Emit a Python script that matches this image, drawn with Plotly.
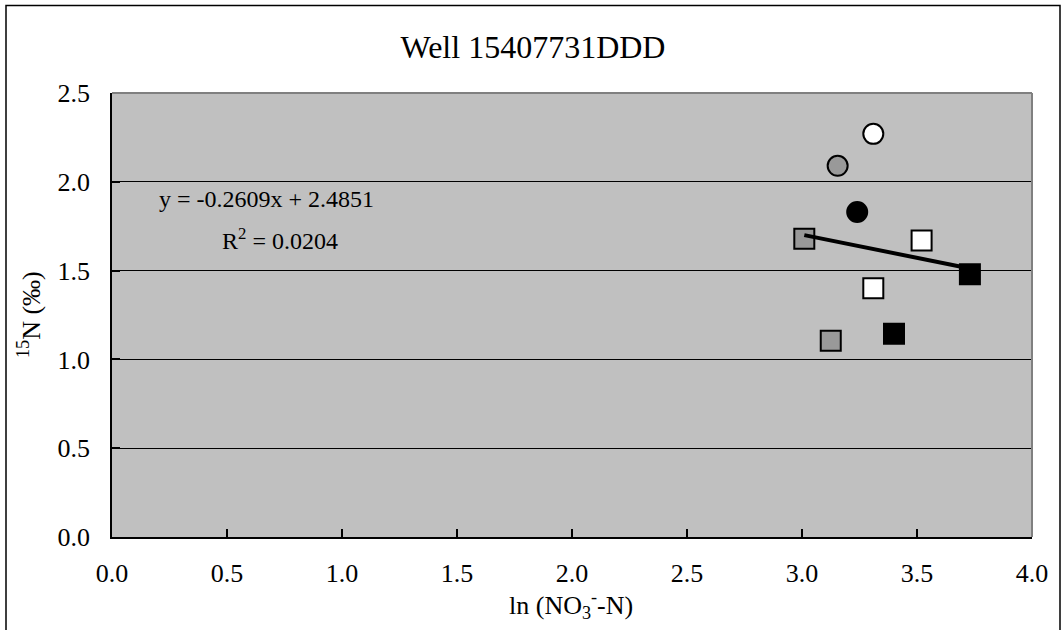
import plotly.graph_objects as go

# ln(NO3-N) vs delta 15N, grouped by marker style
circle_white_x = [3.31]
circle_white_y = [2.27]
circle_gray_x = [3.155]
circle_gray_y = [2.09]
circle_black_x = [3.24]
circle_black_y = [1.83]
square_white_x = [3.52, 3.31]
square_white_y = [1.67, 1.40]
square_gray_x = [3.01, 3.125]
square_gray_y = [1.68, 1.105]
square_black_x = [3.73, 3.40]
square_black_y = [1.48, 1.145]

# linear trendline coefficients
slope = -0.2609
intercept = 2.4851
r_squared = 0.0204

x_ticks = [0.0, 0.5, 1.0, 1.5, 2.0, 2.5, 3.0, 3.5, 4.0]
y_ticks = [0.0, 0.5, 1.0, 1.5, 2.0, 2.5]

FONT = "Liberation Serif, Times New Roman, serif"
GRAY_FILL = "#999999"

fig = go.Figure()

series = [
    (circle_white_x, circle_white_y, "circle", "white"),
    (circle_gray_x, circle_gray_y, "circle", GRAY_FILL),
    (circle_black_x, circle_black_y, "circle", "black"),
    (square_white_x, square_white_y, "square", "white"),
    (square_gray_x, square_gray_y, "square", GRAY_FILL),
    (square_black_x, square_black_y, "square", "black"),
]
for xs, ys, sym, col in series:
    fig.add_trace(go.Scatter(
        x=xs, y=ys, mode="markers",
        marker=dict(symbol=sym, size=20, color=col,
                    line=dict(color="black", width=2)),
        showlegend=False, hoverinfo="x+y",
    ))

all_x = (circle_white_x + circle_gray_x + circle_black_x
         + square_white_x + square_gray_x + square_black_x)
x_lo, x_hi = min(all_x), max(all_x)
fig.add_trace(go.Scatter(
    x=[x_lo, x_hi], y=[slope * x_lo + intercept, slope * x_hi + intercept],
    mode="lines", line=dict(color="black", width=4),
    showlegend=False, hoverinfo="skip",
))

W, H = 1062, 630
ML, MR, MT, MB = 112, 30, 93, 93
pw, ph = W - ML - MR, H - MT - MB


def px_x(p):
    return (p - ML) / pw


def px_y(p):
    return (H - MB - p) / ph


TICK_SIZE = 26

fig.update_layout(
    width=W, height=H,
    margin=dict(l=ML, r=MR, t=MT, b=MB, pad=0),
    paper_bgcolor="white", plot_bgcolor="#C0C0C0",
    font=dict(family=FONT, size=TICK_SIZE, color="black"),
    title=dict(text="Well 15407731DDD", x=533 / W, xref="container",
               xanchor="center", y=1 - 47 / H, yref="container",
               yanchor="middle", font=dict(family=FONT, size=32, color="black")),
    xaxis=dict(range=[0, 4], tickvals=x_ticks,
               ticktext=[f"{v:.1f}" for v in x_ticks],
               ticks="inside", ticklen=8, tickwidth=1.5, tickcolor="black",
               showline=True, linecolor="black", linewidth=1.5,
               showgrid=False, zeroline=False,
               ticklabelstandoff=12,
               tickfont=dict(family=FONT, size=TICK_SIZE, color="black")),
    yaxis=dict(range=[0, 2.5], tickvals=y_ticks,
               ticktext=[f"{v:.1f}" for v in y_ticks],
               ticks="inside", ticklen=8, tickwidth=1.5, tickcolor="black",
               showline=True, linecolor="black", linewidth=1.5,
               showgrid=True, gridcolor="black", gridwidth=1,
               zeroline=False,
               ticklabelstandoff=15,
               tickfont=dict(family=FONT, size=TICK_SIZE, color="black")),
    annotations=[
        dict(text="y = -0.2609x + 2.4851", xref="paper", yref="paper",
             x=px_x(266), y=px_y(199), xanchor="center", yanchor="middle",
             showarrow=False, font=dict(family=FONT, size=24)),
        dict(text=f"R<sup>2</sup> = {r_squared:.4f}", xref="paper", yref="paper",
             x=px_x(280), y=px_y(239), xanchor="center", yanchor="middle",
             showarrow=False, font=dict(family=FONT, size=24)),
        dict(text="<sup>15</sup>N (‰)", xref="paper", yref="paper",
             x=px_x(29), y=px_y(315), xanchor="center", yanchor="middle",
             textangle=-90, showarrow=False, font=dict(family=FONT, size=26)),
        dict(text="ln (NO<sub>3</sub><sup>-</sup>-N)", xref="paper", yref="paper",
             x=px_x(571), y=px_y(605), xanchor="center", yanchor="middle",
             showarrow=False, font=dict(family=FONT, size=26)),
    ],
    shapes=[
        # gray plot-area border on top and right
        dict(type="line", xref="paper", yref="paper", x0=0, x1=1, y0=1, y1=1,
             line=dict(color="#808080", width=2)),
        dict(type="line", xref="paper", yref="paper", x0=1, x1=1, y0=0, y1=1,
             line=dict(color="#808080", width=2)),
        # chart frame
        dict(type="rect", xref="paper", yref="paper",
             x0=px_x(6), x1=px_x(1060), y0=px_y(640), y1=px_y(5.5),
             line=dict(color="black", width=1.5), fillcolor="rgba(0,0,0,0)"),
    ],
)

fig.write_html("out.html")
